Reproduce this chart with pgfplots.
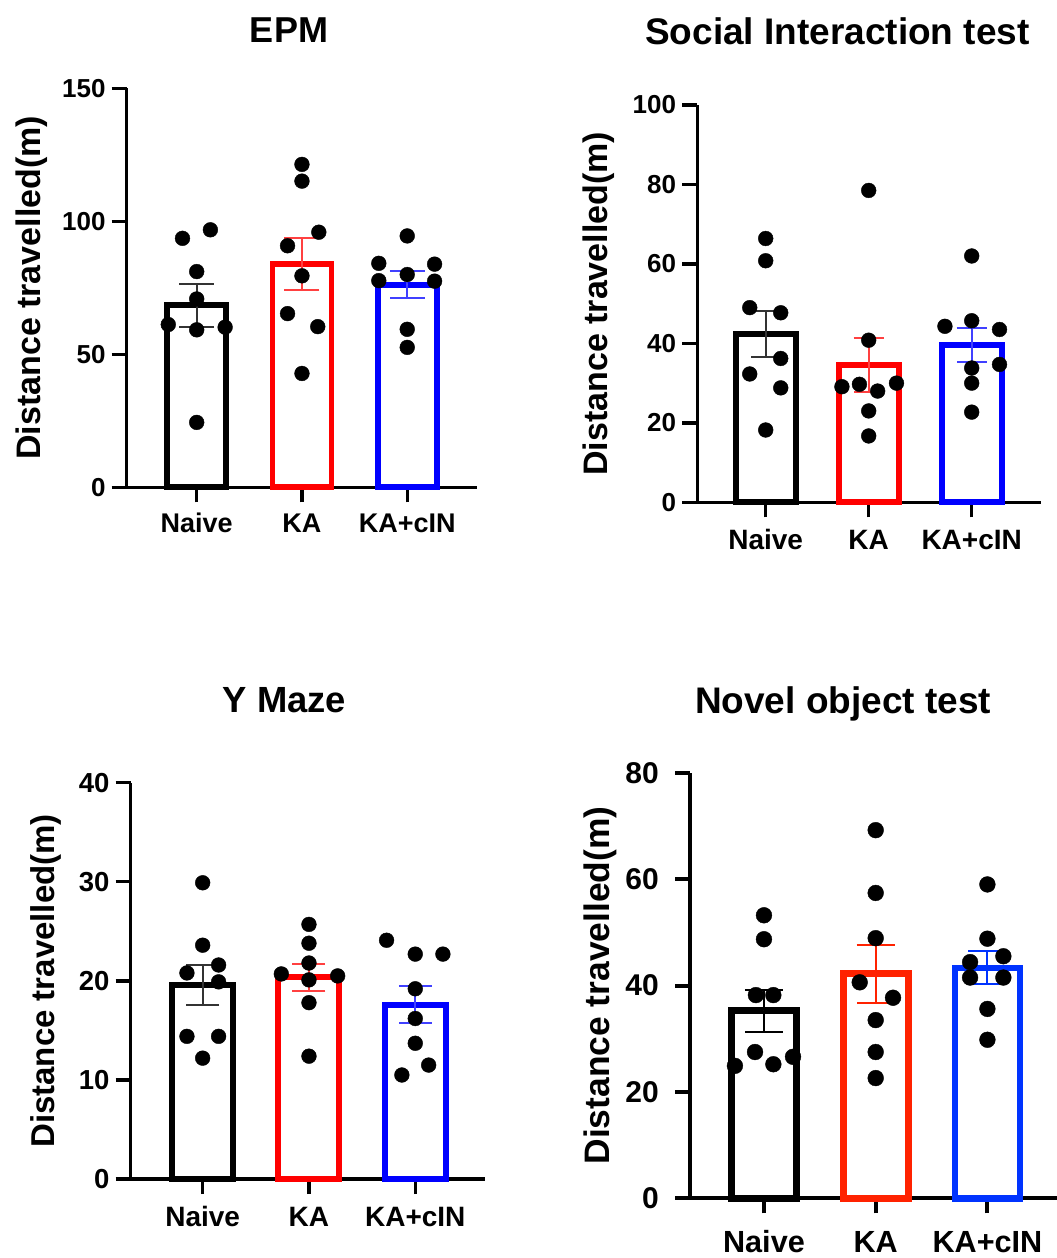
\documentclass[border=0pt]{standalone}
\usepackage{pgfplots}
\pgfplotsset{compat=1.18}
\usepackage{fontspec}
\setmainfont{Liberation Sans}
\definecolor{kared}{RGB}{255,0,0}
\definecolor{kablue}{RGB}{0,0,255}
\definecolor{nred}{RGB}{255,34,0}
\definecolor{nblue}{RGB}{0,51,255}
\pgfplotsset{
  panel/.style={
    scale only axis, clip=false,
    axis x line=bottom, axis y line=left,
    axis line style={-, line width=3.4pt, black},
    tick align=outside, major tick length=15pt,
    tick style={line width=3.4pt, black},
    xtick={0,1,2}, xticklabels={Naive,KA,KA+cIN},
    ymin=0,
    /pgf/number format/assume math mode=true,
    yticklabel style={anchor=east, inner sep=0pt, xshift=-6pt},
    xticklabel style={anchor=base, inner sep=0pt},
    ylabel={Distance travelled(m)},
    ylabel style={anchor=center, rotate=0},
    title style={anchor=base},
  },
  dots/.style={only marks, mark=*, mark size=7.4pt, black, mark options={fill=black, draw=black}},
}
\newcommand{\barplot}[8]{% color, barwidth, linewidth, errcolor, capsize, x, y, err
  \addplot[ybar, bar shift=0pt, bar width=#2, draw=#1, fill=white, line width=#3,
    error bars/.cd, y dir=both, y explicit,
    error bar style={line width=2pt, draw=#4},
    error mark options={rotate=90, mark size=#5, line width=2pt, draw=#4}]
    coordinates {(#6,#7) +- (0,#8)};
}
\begin{document}
\begin{tikzpicture}
\path[use as bounding box] (0pt,0pt) rectangle (1057pt,-1258pt);

% ---------------- EPM
\begin{axis}[panel, at={(126.7pt,-487.3pt)}, anchor=south west,
  width=350pt, height=399pt, xmin=-0.665, xmax=2.66, ymax=150, ytick={0,50,100,150},
  yticklabel style={font=\fontsize{26}{26}\selectfont\bfseries},
  xticklabel style={font=\fontsize{27}{27}\selectfont\bfseries, yshift=-30.4pt},
  ylabel style={at={(axis description cs:-0.272,0.5)}, font=\fontsize{34}{34}\selectfont\bfseries},
  title={EPM},
  title style={at={(axis description cs:0.4637,1.101)}, font=\fontsize{36}{36}\selectfont\bfseries}]
\barplot{black}{59pt}{5.8pt}{black!80}{17.5pt}{0}{68.4}{8.1}
\barplot{kared}{59pt}{5.8pt}{kared!75}{17.5pt}{1}{83.9}{9.75}
\barplot{kablue}{59pt}{5.8pt}{kablue!75}{17.5pt}{2}{76.2}{5.0}
\addplot[dots] coordinates {(-0.135,93.6) (0.13,96.8) (0,81.1) (0,70.8) (-0.27,61.2) (0,59.2) (0.27,60.2) (0,24.4)};
\addplot[dots] coordinates {(1,121.4) (1,115.1) (1.16,95.9) (0.863,90.8) (1,79.5) (0.863,65.3) (1.15,60.4) (1,42.8)};
\addplot[dots] coordinates {(2,94.5) (1.73,84.2) (2.26,83.9) (2,80.0) (1.73,77.7) (2.26,77.5) (2,59.4) (2,52.6)};
\end{axis}

% ---------------- Social Interaction
\begin{axis}[panel, at={(697.3pt,-502.3pt)}, anchor=south west,
  width=343.4pt, height=397.3pt, xmin=-0.664, xmax=2.67, ymax=100, ytick={0,20,40,60,80,100},
  yticklabel style={font=\fontsize{26}{26}\selectfont\bfseries},
  xticklabel style={font=\fontsize{28}{28}\selectfont\bfseries, yshift=-31.7pt},
  ylabel style={at={(axis description cs:-0.288,0.5)}, font=\fontsize{34}{34}\selectfont\bfseries},
  title={Social Interaction test},
  title style={at={(axis description cs:0.408,1.138)}, font=\fontsize{37}{37}\selectfont\bfseries}]
\barplot{black}{60pt}{5.8pt}{black!80}{15pt}{0}{42.4}{5.8}
\barplot{kared}{60pt}{5.8pt}{kared!75}{15pt}{1}{34.5}{6.8}
\barplot{kablue}{60pt}{5.8pt}{kablue!75}{15pt}{2}{39.6}{4.3}
\addplot[dots] coordinates {(0,66.4) (0,60.8) (-0.155,49.0) (0.146,47.7) (0.146,36.2) (-0.155,32.3) (0.146,28.8) (0,18.2)};
\addplot[dots] coordinates {(1,78.5) (1,40.8) (0.74,29.1) (0.91,29.7) (1.27,30.0) (1.087,28.0) (1,23.0) (1,16.7)};
\addplot[dots] coordinates {(2,62.0) (1.74,44.3) (2,45.7) (2.27,43.5) (2,33.8) (2.27,34.7) (2,30.0) (2,22.7)};
\end{axis}

% ---------------- Y Maze
\begin{axis}[panel, at={(130.7pt,-1179pt)}, anchor=south west,
  width=354.3pt, height=396.3pt, xmin=-0.677, xmax=2.656, ymax=40, ytick={0,10,20,30,40},
  yticklabel style={font=\fontsize{27.5}{27.5}\selectfont\bfseries},
  xticklabel style={font=\fontsize{28}{28}\selectfont\bfseries, yshift=-32pt},
  ylabel style={at={(axis description cs:-0.239,0.5)}, font=\fontsize{33}{33}\selectfont\bfseries},
  title={Y Maze},
  title style={at={(axis description cs:0.434,1.163)}, font=\fontsize{36.4}{36.4}\selectfont\bfseries}]
\barplot{black}{61pt}{6pt}{black!80}{16.5pt}{0}{19.6}{2.05}
\barplot{kared}{61pt}{6pt}{kared!75}{16.5pt}{1}{20.35}{1.4}
\barplot{kablue}{61pt}{6pt}{kablue!75}{16.5pt}{2}{17.6}{1.85}
\addplot[dots] coordinates {(0,29.9) (0,23.6) (-0.148,20.8) (0.15,21.6) (0.15,19.9) (-0.148,14.4) (0.15,14.4) (0,12.2)};
\addplot[dots] coordinates {(1,25.7) (1,23.8) (1,21.8) (0.74,20.7) (1.27,20.5) (1,20.1) (1,17.8) (1,12.4)};
\addplot[dots] coordinates {(1.73,24.1) (2,22.7) (2.26,22.7) (2,19.2) (2,16.2) (2,13.7) (2.126,11.5) (1.874,10.5)};
\end{axis}

% ---------------- Novel object
\begin{axis}[panel, at={(690pt,-1198.3pt)}, anchor=south west,
  width=367pt, height=425.6pt, xmin=-0.662, xmax=2.623, ymax=80, ytick={0,20,40,60,80},
  axis line style={line width=4pt}, tick style={line width=4pt},
  yticklabel style={font=\fontsize{30}{30}\selectfont\bfseries, xshift=-10pt},
  xticklabel style={font=\fontsize{30.6}{30.6}\selectfont\bfseries, yshift=-38.7pt},
  ylabel style={at={(axis description cs:-0.245,0.5)}, font=\fontsize{35.4}{35.4}\selectfont\bfseries},
  title={Novel object test},
  title style={at={(axis description cs:0.417,1.124)}, font=\fontsize{37}{37}\selectfont\bfseries}]
\barplot{black}{65pt}{6.8pt}{black}{19pt}{0}{35.3}{3.95}
\barplot{nred}{65pt}{6.8pt}{nred}{19pt}{1}{42.2}{5.5}
\barplot{nblue}{65pt}{6.8pt}{nblue}{19pt}{2}{43.3}{3.1}
\addplot[dots, mark size=7.9pt] coordinates {(0,53.2) (0,48.7) (-0.072,38.2) (0.084,38.2) (-0.08,27.5) (-0.26,24.9) (0.084,25.2) (0.26,26.6)};
\addplot[dots, mark size=7.9pt] coordinates {(1,69.2) (1,57.4) (1,48.9) (0.857,40.6) (1.155,37.7) (1,33.5) (1,27.5) (1,22.6)};
\addplot[dots, mark size=7.9pt] coordinates {(2,59.0) (2,48.8) (1.845,44.4) (2.143,45.5) (1.845,41.5) (2.143,41.5) (2,35.6) (2,29.8)};
\end{axis}
\end{tikzpicture}
\end{document}
